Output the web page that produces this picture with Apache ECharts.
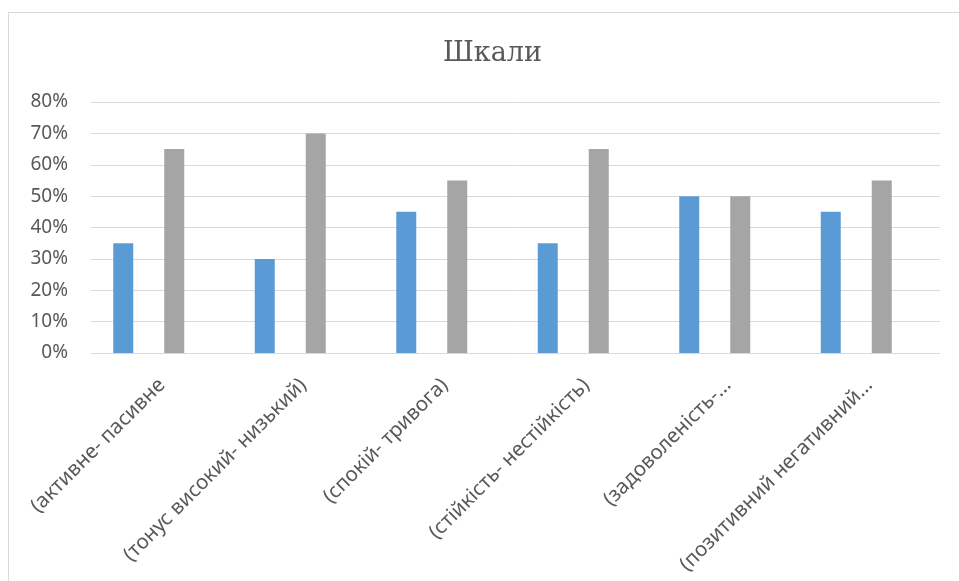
<!DOCTYPE html>
<html>
<head>
<meta charset="utf-8">
<script src="https://cdn.jsdelivr.net/npm/echarts@6/dist/echarts.min.js"></script>
<style>
  html, body { margin: 0; padding: 0; background: #fff; overflow: hidden; }
  #frame { position: absolute; left: 8px; top: 12px; width: 1200px; height: 800px;
           border-left: 1px solid #d9d9d9; border-top: 1px solid #d9d9d9; }
  #chart { position: absolute; left: 0; top: 0; width: 959px; height: 581px; }
</style>
</head>
<body>
<div id="frame"></div>
<div id="chart"></div>
<script>
var categories = ['(активне- пасивне', '(тонус високий- низький)', '(спокій- тривога)',
                  '(стійкість- нестійкість)', '(задоволеність-…', '(позитивний негативний…'];
var blueValues = [0.35, 0.30, 0.45, 0.35, 0.50, 0.45];
var grayValues = [0.65, 0.70, 0.55, 0.65, 0.50, 0.55];

var chart = echarts.init(document.getElementById('chart'));

option = {
    animation: false,
    title: {
        text: 'Шкали',
        left: 438,
        top: 35,
        textStyle: {
            fontFamily: 'DejaVu Serif',
            fontSize: 27,
            fontWeight: 'normal',
            color: '#595959'
        }
    },
    grid: [
        // bars
        { left: 78, right: 32, top: 102, bottom: 228 },
        // gridlines, y labels, category labels
        { left: 91, right: 19, top: 102, bottom: 228 }
    ],
    xAxis: [
        { type: 'category', gridIndex: 0, data: categories, show: false },
        {
            type: 'category',
            gridIndex: 1,
            data: categories,
            axisLine: { show: false },
            axisTick: { show: false },
            axisLabel: {
                rotate: 45,
                interval: 0,
                margin: 29,
                fontFamily: 'Noto Sans',
                fontSize: 20.5,
                color: '#595959'
            }
        }
    ],
    yAxis: [
        { type: 'value', gridIndex: 0, min: 0, max: 0.8, interval: 0.1, show: false },
        {
            type: 'value',
            gridIndex: 1,
            min: 0,
            max: 0.8,
            interval: 0.1,
            axisLine: { show: false },
            axisTick: { show: false },
            splitLine: { lineStyle: { color: '#d9d9d9', width: 1 } },
            axisLabel: {
                margin: 23,
                fontFamily: 'Noto Sans',
                fontSize: 19,
                color: '#595959',
                formatter: function (v) { return Math.round(v * 100) + '%'; }
            }
        }
    ],
    series: [
        {
            name: 'blue',
            type: 'bar',
            xAxisIndex: 0,
            yAxisIndex: 0,
            barWidth: 20,
            barGap: '155%',
            itemStyle: { color: '#5b9bd5' },
            data: blueValues
        },
        {
            name: 'gray',
            type: 'bar',
            xAxisIndex: 0,
            yAxisIndex: 0,
            barWidth: 20,
            barGap: '155%',
            itemStyle: { color: '#a5a5a5' },
            data: grayValues
        }
    ]
};

chart.setOption(option);
</script>
</body>
</html>
